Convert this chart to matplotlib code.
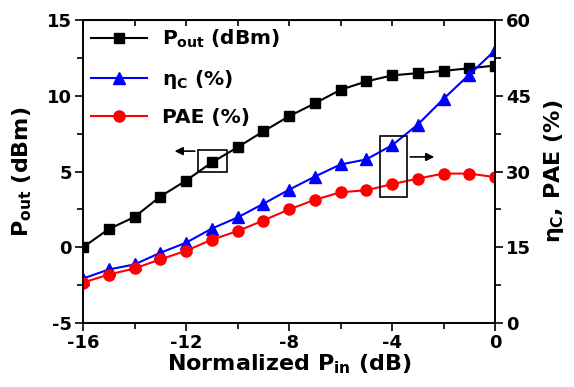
import numpy as np
import matplotlib
matplotlib.use("Agg")
import matplotlib.pyplot as plt
from matplotlib.patches import Rectangle

plt.rcParams['font.family'] = ['DejaVu Sans']
plt.rcParams['font.weight'] = 'bold'
plt.rcParams['axes.labelweight'] = 'bold'
plt.rcParams['axes.unicode_minus'] = False
plt.rcParams['mathtext.fontset'] = 'custom'
plt.rcParams['mathtext.rm'] = 'DejaVu Sans:bold'
plt.rcParams['mathtext.it'] = 'DejaVu Sans:bold'
plt.rcParams['mathtext.bf'] = 'DejaVu Sans:bold'

# data
pin = [-16, -15, -14, -13, -12, -11, -10, -9, -8, -7, -6, -5, -4, -3, -2, -1, 0]
pout = [0.0, 1.2, 2.0, 3.35, 4.4, 5.6, 6.6, 7.65, 8.65, 9.5, 10.4, 10.95,
        11.35, 11.5, 11.65, 11.82, 12.0]
eta_c = [8.8, 10.6, 11.6, 13.9, 15.9, 18.7, 20.9, 23.6, 26.4, 29.0, 31.4,
         32.4, 35.2, 39.3, 44.4, 49.2, 54.0]
pae = [8.0, 9.6, 10.8, 12.6, 14.3, 16.5, 18.2, 20.3, 22.5, 24.4, 25.9,
       26.3, 27.5, 28.6, 29.6, 29.6, 28.9]

xticks = [-16, -12, -8, -4, 0]
left_ticks = [-5, 0, 5, 10, 15]
right_ticks = [0, 15, 30, 45, 60]

fig = plt.figure(figsize=(5.74, 3.87), dpi=100)
ax = fig.add_axes([0.1446, 0.1654, 0.7178, 0.7826])
ax2 = ax.twinx()

l1, = ax.plot(pin, pout, color='black', marker='s', ms=6.5, lw=1.5, label=r'$P_{out}$ (dBm)')
l2, = ax2.plot(pin, eta_c, color='blue', marker='^', ms=8.5, lw=1.5, label=r'$\eta_C$ (%)')
l3, = ax2.plot(pin, pae, color='red', marker='o', ms=8, lw=1.5, label='PAE (%)')

ax.set_xlim(-16, 0)
ax.set_ylim(-5, 15)
ax2.set_ylim(0, 60)
ax.set_xticks(xticks)
ax.set_xticks(np.arange(-16, 1, 2), minor=True)
ax.set_yticks(left_ticks)
ax.set_yticks(np.arange(-5, 15.1, 2.5), minor=True)
ax2.set_yticks(right_ticks)
ax2.set_yticks(np.arange(0, 60.1, 7.5), minor=True)

for a in (ax, ax2):
    a.tick_params(which='major', length=6, width=1.2, labelsize=13, pad=2)
    a.tick_params(which='minor', length=4, width=1.2)
    for s in a.spines.values():
        s.set_linewidth(1.2)

top = ax.secondary_xaxis('top')
top.set_xticks(np.arange(-16, 1, 2))
top.tick_params(direction='in', length=4, width=1.2, labeltop=False)

ax.set_xlabel(r'Normalized $P_{in}$ (dB)', fontsize=16, labelpad=0)
ax.set_ylabel(r'$P_{out}$ (dBm)', fontsize=16, labelpad=9)
ax2.set_ylabel(r'$\eta_C$, PAE (%)', fontsize=16, labelpad=8, rotation=90)

# marker boxes with arrows pointing to the axis
ax.add_patch(Rectangle((-11.55, 4.95), 1.13, 1.45, fill=False, lw=1.2, zorder=5))
ax.annotate('', xy=(-12.55, 6.35), xytext=(-11.55, 6.35),
            arrowprops=dict(arrowstyle='-|>', color='black', lw=1.2, mutation_scale=12))
ax2.add_patch(Rectangle((-4.45, 24.9), 1.05, 12.1, fill=False, lw=1.2, zorder=5))
ax2.annotate('', xy=(-2.25, 32.9), xytext=(-3.4, 32.9),
             arrowprops=dict(arrowstyle='-|>', color='black', lw=1.2, mutation_scale=12))

ax2.legend(handles=[l1, l2, l3], loc='upper left', frameon=False,
           prop={'size': 14.5, 'weight': 'bold'}, handlelength=2.8, labelspacing=0.85,
           borderaxespad=0.0, borderpad=0.4, handletextpad=0.7)

fig.savefig('out.png', dpi=100)
